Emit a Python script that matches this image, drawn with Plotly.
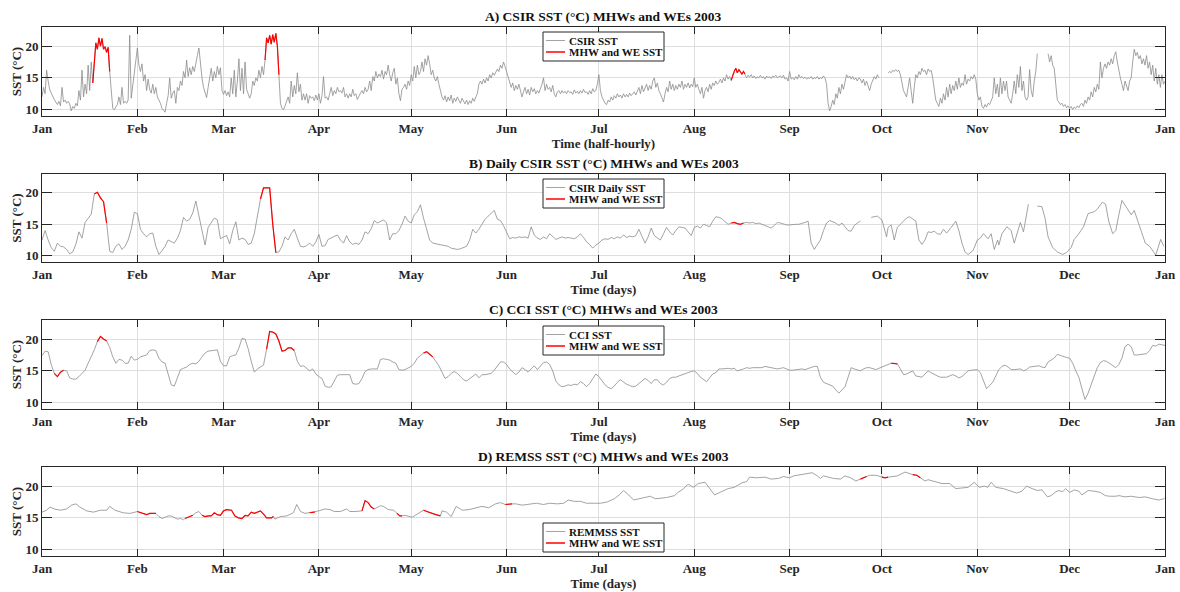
import numpy as np
import pandas as pd
import plotly.graph_objects as go

# ---------------- data ----------------
YEAR_START = "2003-01-01"
month_labels = ["Jan", "Feb", "Mar", "Apr", "May", "Jun", "Jul", "Aug", "Sep", "Oct", "Nov", "Dec", "Jan"]
ytick_vals = [10, 15, 20]

# A) CSIR half-hourly SST, sampled every half day (read from picture)
a_jan = [12.0,13.5,12.5,16.2,14.5,13.2,12.6,12.0,11.6,11.2, 10.8,11.3,10.6,13.5,11.2,11.5,11.0,11.3,10.9,9.8,
         10.5,10.2,11.0,10.6,13.0,11.5,16.2,12.0,14.0,12.5, 17.0,13.0,17.5,14.2,18.0,20.5,19.5,21.3,20.0,21.2,
         19.5,19.9,19.0,19.8,16.0,12.5,10.2,10.0,10.4,10.8, 12.0,10.8,13.5,11.0,11.3,11.0,11.5,21.7,11.8,14.0,
         16.0,17.5]
a_feb = [19.7,17.0,16.0,17.2,14.5,15.5,13.0,14.8,13.2,12.6, 14.0,12.5,13.5,12.0,11.5,11.0,10.2,9.8,9.6,11.0,
         12.2,15.0,11.8,12.6,13.0,11.0,13.5,13.0,14.5,13.8, 16.0,15.0,17.8,15.2,16.6,15.5,16.8,16.0,17.5,18.5,
         19.7,17.0,15.0,13.5,12.5,11.9,13.5,14.8,16.5,14.5, 16.0,15.0,16.8,15.5,16.6,13.0]
a_mar = [12.4,13.0,12.2,12.8,12.0,15.0,12.5,16.2,12.0,14.5, 18.0,13.0,16.5,12.5,17.5,13.2,12.5,11.8,12.5,14.5,
         13.8,15.0,14.5,16.2,15.0,16.8,15.5,17.8,21.3,20.5, 21.7,20.3,21.8,20.6,22.0,20.0,15.5,11.0,10.2,10.0,
         10.6,11.2,12.0,11.0,14.5,12.0,13.8,12.5,15.8,12.8, 14.0,11.5,12.5,11.5,12.5,11.0,12.2,11.8,12.0,11.4,
         12.3,11.5]
a_apr = [12.5,11.0,12.2,15.2,11.8,12.0,11.5,12.5,13.5,12.2, 13.0,12.5,13.5,12.8,13.0,12.6,13.5,12.0,12.5,11.8,
         12.5,12.0,13.2,12.2,12.5,11.6,12.2,12.6,13.0,12.5, 13.5,12.8,13.2,14.5,13.0,15.2,14.5,16.0,15.0,15.6,
         15.2,16.2,14.8,16.0,15.5,17.0,15.5,14.5,15.8,16.5, 14.0,15.0,12.5,11.4,13.2,13.5,14.0,13.2,14.5,13.8]
a_may = [15.5,14.5,16.8,15.0,17.0,15.5,16.0,17.5,16.0,18.0, 17.0,18.5,17.2,15.5,16.2,15.0,14.5,15.2,14.0,13.0,
         12.0,11.5,12.2,11.2,12.0,11.4,12.3,11.0,11.8,11.3, 12.0,11.5,11.0,11.8,11.2,10.9,11.5,10.8,11.4,11.0,
         11.8,11.3,12.0,12.5,14.0,14.5,14.0,14.8,14.2,15.0, 14.5,15.5,15.0,15.8,15.4,16.0,16.4,16.0,17.0,16.5,
         17.5,16.8]
a_jun = [16.0,15.5,14.5,13.5,14.2,13.0,13.8,13.2,14.0,12.8, 12.0,12.8,13.5,12.5,13.2,12.3,13.5,12.8,13.3,12.5,
         13.0,12.6,13.2,14.0,15.0,13.0,14.0,13.2,13.5,12.8, 13.8,12.5,12.0,12.8,13.0,12.5,13.0,12.6,12.9,12.5,
         13.0,12.7,12.8,12.4,13.1,12.6,12.9,12.5,13.0,12.6, 13.2,12.7,12.8,12.4,13.0,12.5,13.3,12.8,13.0,14.0]
a_jul = [15.5,13.0,12.0,11.5,11.0,10.8,11.5,11.2,12.0,11.5, 12.2,11.8,12.5,12.0,12.3,11.8,12.5,12.0,12.4,12.0,
         12.6,12.2,12.5,12.8,12.3,13.0,13.5,12.5,13.8,12.8, 13.5,14.0,13.0,13.8,13.2,14.5,15.0,13.5,14.2,13.0,
         12.5,11.8,11.2,12.5,13.5,12.8,14.5,13.2,14.0,13.0, 13.8,13.2,14.0,13.5,14.5,13.2,14.0,13.5,14.2,13.4,
         14.0,13.6]
a_aug = [15.0,13.5,14.0,13.2,12.5,13.5,11.8,13.0,13.5,12.8, 14.0,13.2,14.2,13.8,14.5,14.0,14.3,14.8,14.2,15.0,
         14.5,15.5,14.8,15.2,14.6,15.5,16.0,16.5,15.8,16.3, 15.9,15.6,16.0,15.6,15.0,15.4,15.1,15.5,15.0,15.3,
         14.9,15.2,15.0,15.4,15.0,15.2,14.8,15.3,15.0,15.2, 14.9,15.3,15.1,15.4,15.0,15.2,15.3,15.0,15.4,14.8,
         15.0,14.5]
a_sep = [16.0,14.8,15.0,14.7,15.2,14.8,15.5,15.0,15.2,14.9, 15.1,14.8,15.0,14.9,15.2,14.8,15.0,14.9,15.2,14.8,
         15.0,14.9,15.3,15.0,14.0,11.0,9.8,10.5,11.5,10.8, 12.5,11.8,13.5,12.5,14.0,13.2,14.5,15.5,15.0,15.3,
         14.8,15.2,14.7,15.0,14.5,15.0,14.8,14.2,14.8,13.8, 14.5,13.5,13.0,14.0,14.5,15.2,14.8,15.5,15.0,None]
a_oct = [None,None,None,None,15.8,16.0,15.8,16.2,16.0,16.3, 16.0,16.2,15.5,14.0,13.0,12.5,12.0,13.5,15.0,13.0,
         11.0,13.5,15.5,15.0,16.0,15.5,16.5,16.0,16.2,15.5, 16.4,16.0,16.2,15.0,13.0,11.5,11.0,10.5,11.8,11.0,
         12.5,11.5,13.5,12.0,14.0,12.5,13.8,13.0,14.5,13.2, 15.0,13.5,14.2,13.8,15.5,14.0,14.8,14.5,15.2,14.8,
         15.5,14.8]
a_nov = [12.5,11.5,12.0,10.5,10.2,10.8,10.4,11.0,10.8,11.5, 12.0,15.0,12.5,14.0,12.0,15.0,12.5,14.5,13.0,14.5,
         12.0,11.5,11.0,12.5,14.5,12.5,15.5,13.5,16.8,13.0, 14.5,12.0,11.5,12.0,16.3,13.0,12.0,14.5,16.0,18.8,
         None,None,None,None,None,None,18.8,17.5,18.5,17.0, 16.5,14.0,11.5,11.2,10.8,11.0,10.5,10.8,10.3,10.6]
a_dec = [10.2,10.5,10.0,10.4,10.2,10.6,10.3,10.8,11.0,10.5, 11.5,11.0,12.0,11.5,12.8,12.0,13.5,12.8,14.0,13.2,
         17.5,15.0,16.5,17.2,16.5,17.5,17.0,18.0,17.2,18.5, 19.1,17.5,16.0,15.0,14.0,13.0,14.5,13.5,13.0,14.5,
         15.0,17.5,19.5,18.5,19.0,18.0,18.5,17.2,18.0,17.0, 18.5,16.5,17.5,15.5,17.0,14.5,16.5,14.0,15.5,13.5,
         15.5,14.0]
a_end = [14.5]
a_events = [(16.5, 22.0), (72.5, 77.0), (224.0, 228.5)]

# B) CSIR daily SST
b_sst_daily = [12.5,14.0,12.5,11.3,10.7,12.0,11.5,11.4,11.0,10.3, 10.6,11.8,13.8,12.8,15.3,15.9,16.6,19.8,20.1,19.2,
    18.6,15.2,10.7,10.5,11.5,11.9,11.0,11.5,12.5,14.2, 16.9,16.7,14.2,13.5,13.0,13.5,13.6,11.5,10.2,10.8,
    11.5,12.5,12.3,12.0,12.8,14.0,16.1,15.5,15.8,16.8, 18.7,16.5,14.0,11.7,14.5,15.3,16.0,15.7,12.7,13.0,
    13.2,11.9,14.0,15.4,12.5,12.8,12.6,11.8,12.0,13.5, 16.0,19.0,20.8,20.8,20.8,15.0,10.5,10.6,11.5,13.0,
    12.5,13.5,14.2,12.8,11.5,11.4,11.6,12.0,11.5,12.2, 13.4,11.5,11.6,12.6,12.8,13.0,13.3,12.5,12.0,13.2,
    12.2,11.8,12.0,11.8,12.5,13.8,13.5,14.3,15.6,15.2, 15.4,15.7,15.2,12.5,13.5,13.5,14.0,15.0,16.3,15.5,
    15.2,16.5,17.0,18.1,16.0,14.0,12.5,12.0,11.9,11.8, 11.8,11.7,11.5,11.2,11.1,11.0,11.1,11.3,11.5,12.5,
    14.2,13.6,14.2,15.0,15.8,16.3,16.8,17.2,15.8,15.6, 14.8,13.8,12.7,12.9,12.8,13.0,12.9,13.0,12.8,14.6,
    13.3,12.8,12.6,13.0,12.7,13.5,13.0,12.6,12.8,13.0, 12.8,12.9,12.8,12.7,13.0,13.5,12.9,12.2,11.8,11.2,
    11.7,12.0,12.5,12.7,12.6,12.9,12.7,13.0,12.8,13.3, 12.9,13.1,13.0,13.2,14.2,13.0,12.0,13.0,14.4,13.2,
    12.8,12.5,13.5,14.5,13.8,13.3,14.0,14.6,14.5,14.4, 13.8,13.2,14.5,14.7,14.4,15.0,14.8,14.6,15.5,16.2,
    16.1,15.9,15.4,15.0,15.2,15.3,15.1,15.0,15.2,15.3, 15.2,15.3,15.1,15.2,15.0,14.8,14.6,14.4,14.8,15.3,
    15.2,15.0,14.9,14.9,15.0,15.0,15.0,15.1,15.3,15.5, 12.0,11.0,11.8,12.5,14.0,15.2,15.6,15.4,15.2,14.8,
    15.2,14.6,14.0,13.9,14.8,15.2,15.5]
b_day_tail = [268, 269.5, 270.5, 271.5, 273, 274.5, 275, 276, 277, 278, 279, 280, 281, 282, 283, 284, 285, 286,
    287, 288, 289, 290, 291, 292, 293, 294, 295.5, 297, 298, 299, 300, 301, 302.6, 304, 305, 306, 307.5, 308.5,
    309.5, 310.6, 311, 312, 313.6, 315, 316, 318, 319, 320.6, 322, 323.5, 325, 326, 327, 328.5, 330, 331.7,
    333, 334.5, 335.5, 337, 338.5, 340, 342, 343, 344.6, 345.7, 346.7, 348, 349, 350, 351, 352.6, 354, 355,
    357, 358.6, 360, 362, 363.6, 364.6]
b_sst_tail = [None, 16.1, 16.2, 16.3, 15.7, 13.0, 14.5, 14.9, 12.5, 14.5, 15.0, 15.5, 16.0, 16.2, 15.8, 15.5, 12.5, 11.8,
    12.5, 13.8, 13.7, 13.9, 13.5, 13.4, 14.2, 13.6, 14.5, 15.5, 14.0, 12.0, 10.6, 10.2, 10.8, 12.5, 12.8, 13.5, 12.7, 13.5,
    11.0, 12.5, 11.7, 13.5, 14.6, 14.0, 12.0, 15.3, 13.8, 18.2, None, 17.9, 17.8, 16.0, 13.0, 11.3, 10.6, 10.2,
    10.5, 11.3, 12.6, 13.5, 14.6, 16.7, 17.0, 17.4, 18.5, 18.2, 15.5, 13.5, 14.0, 16.5, 18.8, 17.6, 16.5, 17.2,
    14.3, 12.0, 11.5, 10.1, 12.6, 11.5]
b_events = [(17, 21), (71, 76), (224, 228)]

# C) CCI daily SST
c_sst = [17.4,18.1,18.0,16.0,14.6,14.1,14.8,15.1,15.0,13.9, 13.7,13.7,14.1,14.6,15.1,16.2,17.2,18.3,19.6,20.4,
    20.0,19.7,18.7,17.2,16.2,16.8,16.7,16.2,16.2,17.3, 16.7,16.8,17.2,17.4,17.5,18.2,18.3,18.2,17.0,16.4,
    16.2,14.5,12.8,12.6,13.8,15.2,15.4,15.6,16.0,16.2, 16.1,16.5,17.2,17.8,18.1,18.2,18.2,18.3,16.5,15.8,
    15.8,17.2,17.4,17.5,18.6,20.1,20.0,18.5,16.5,14.8, 15.3,15.6,15.9,18.4,21.2,21.1,20.8,19.7,18.1,18.2,
    18.6,18.6,18.2,16.5,15.7,15.8,15.4,15.0,15.3,14.5, 14.1,13.8,12.6,12.4,12.5,13.5,14.3,14.4,14.4,14.4,
    14.4,13.0,12.9,13.0,13.8,14.9,15.2,15.3,15.3,15.3, 16.8,16.9,16.8,16.7,16.4,16.2,15.2,15.1,15.2,15.4,
    15.7,16.2,17.0,17.4,17.8,18.0,17.6,17.2,16.5,15.8, 14.8,13.8,14.1,14.6,14.9,14.6,14.1,13.6,13.4,13.8,
    14.2,14.5,13.9,14.4,14.4,14.5,14.6,15.1,15.8,16.4, 16.4,16.0,15.3,14.8,14.4,14.8,15.5,15.2,14.8,15.3,
    15.8,15.2,15.8,16.3,16.4,16.0,15.0,13.4,12.8,12.5, 12.6,12.8,12.7,12.9,12.8,13.3,13.0,12.5,13.0,13.8,
    14.5,14.1,13.5,12.8,12.4,12.2,12.6,13.2,13.6,13.2, 12.9,12.7,12.5,12.6,13.0,13.5,13.8,13.5,13.0,13.6,
    13.6,13.0,12.8,13.2,13.8,14.0,14.0,14.2,14.4,14.6, 14.7,14.9,15.0,14.6,14.0,13.6,13.3,13.9,14.5,14.7,
    15.3,15.3,15.4,15.4,15.3,15.4,15.0,15.1,15.3,15.5, 15.4,15.5,15.5,15.4,15.5,15.7,15.6,15.5,15.4,15.3,
    15.4,15.5,15.3,15.1,15.1,15.2,15.3,15.3,15.2,15.4, 15.6,15.7,15.7,14.0,13.2,13.0,12.8,12.6,12.0,11.5,
    12.0,12.5,14.0,15.5,15.3,15.1,15.0,15.3,15.5,15.5, 15.4,15.2,15.4,15.6,15.8,16.0,16.2,16.2,16.1,15.3,
    14.4,14.5,14.7,15.0,14.2,14.1,14.0,14.5,15.0,14.7, 14.4,14.2,14.0,14.0,14.0,14.2,14.4,14.2,13.9,14.1,
    14.5,15.0,15.1,15.2,15.2,14.7,13.5,12.2,12.7,13.2, 14.2,15.2,15.7,15.9,15.6,15.2,15.2,15.3,15.3,15.0,
    15.2,15.6,15.7,15.8,15.8,15.6,15.5,16.4,16.7,17.0, 17.6,17.4,17.2,17.1,17.0,16.2,15.0,14.0,12.2,10.5,
    11.5,12.8,14.0,15.5,16.3,16.6,16.5,16.2,15.8,15.5, 16.0,17.0,18.8,19.2,18.8,17.5,17.5,17.6,17.6,17.7,
    18.2,19.0,18.9,19.2,19.1,19.0]
c_events = [(4, 7), (18, 21), (73, 82), (124, 127), (276, 278)]

# D) REMSS daily SST (read at irregular days)
d_day = [0, 1.5, 2.6, 4, 6, 8, 9.6, 11, 12.3, 14.5, 16.7, 19, 21, 22, 23.7, 26.4, 28.6, 31, 32, 33, 34, 35, 36, 37,
    38, 39, 40, 41, 42, 43, 44, 45, 46, 46.5, 47.5, 49, 50, 51, 52, 53, 54, 55, 56, 57, 58, 59, 60, 61.6, 62.7,
    63.8, 65, 66, 67, 68, 69, 71, 72, 73, 74.6, 75.2, 75.7, 77.4, 79.5, 81.7, 82.8, 84, 85.5, 87, 88.7, 90, 92,
    93.6, 95, 97, 99, 100, 102, 104, 105, 106, 107, 108, 110, 111, 112.5, 114.3, 115.4, 116.3, 117, 118, 120.3,
    122, 124, 125, 126, 127, 128, 129.5, 130, 131.5, 133, 134.6, 136.6, 138.8, 141, 143, 145.2, 147.4, 149,
    150.6, 152.8, 154, 156, 158, 160.7, 163, 165, 167.5, 169.6, 171, 173, 175, 177, 179.5, 181.6, 183.7, 186,
    187.6, 189, 190.7, 192.3, 194, 195.6, 197.7, 199.4, 201, 203, 205.6, 206.7, 208.3, 210, 211.7, 213.3,
    215.5, 217, 218.6, 220.3, 223, 225, 227.5, 229, 230, 232.3, 235, 237, 239.4, 241, 243, 244.3, 246.5,
    248.6, 250.3, 252, 253, 254, 255.7, 257.3, 259.5, 261, 262.8, 264.5, 266, 268, 269, 271, 273, 274, 275,
    276, 278, 280.5, 282, 283, 284.3, 285.5, 287, 288, 290.5, 292.5, 295, 297, 299, 301, 303, 304.6, 306.3,
    307.4, 308.5, 310, 312.5, 314.6, 316.8, 318.5, 320, 321.8, 323.5, 325, 326.8, 328, 329.5, 330.5, 331.7,
    332.7, 334, 335.5, 337, 338, 340, 342, 344, 345.6, 347, 349, 350, 352, 354, 356.6, 358.6, 361, 363,
    364.6, 365]
d_sst = [15.9, 16.2, 16.7, 16.4, 16.2, 16.4, 17.0, 17.2, 16.7, 16.1, 15.9, 16.2, 16.2, 16.8, 16.2, 15.8, 15.7, 16.0,
    15.8, 15.6, 15.5, 15.7, 15.7, 15.7, 15.2, 14.9, 15.1, 15.3, 15.3, 15.0, 14.8, 14.9, 14.7, 14.9, 15.1, 15.4,
    15.8, 16.0, 15.4, 15.2, 15.3, 15.3, 15.8, 15.5, 15.4, 16.1, 16.3, 16.2, 15.3, 15.0, 14.9, 15.4, 15.3, 15.9,
    15.7, 16.1, 15.6, 15.0, 15.0, 15.2, 14.8, 15.2, 15.3, 15.8, 17.1, 16.0, 15.7, 15.8, 15.9, 16.1, 16.4, 16.3,
    16.0, 16.0, 16.4, 16.0, 16.0, 16.1, 17.7, 17.4, 16.7, 16.4, 16.9, 16.8, 16.3, 16.2, 15.7, 15.3, 15.3, 15.4,
    15.1, 15.6, 16.2, 16.0, 15.8, 15.6, 15.5, 15.3, 16.1, 15.9, 15.2, 16.8, 16.2, 16.3, 16.5, 16.8, 16.6, 17.2,
    17.4, 17.1, 17.2, 17.2, 17.0, 17.1, 17.3, 17.1, 17.3, 17.2, 17.3, 17.8, 17.6, 17.6, 17.3, 17.3, 17.3, 17.5,
    18.0, 18.6, 19.3, 18.6, 17.8, 18.0, 18.2, 18.4, 18.0, 18.1, 18.2, 18.5, 19.0, 19.5, 20.3, 19.8, 20.4, 20.6,
    19.6, 18.6, 19.0, 19.6, 19.8, 20.5, 20.7, 21.4, 21.3, 21.4, 21.1, 21.2, 21.5, 21.3, 21.6, 21.8, 21.9, 22.1,
    21.6, 21.2, 21.6, 21.4, 21.2, 21.1, 21.6, 21.3, 20.8, 21.1, 21.5, 21.7, 21.7, 21.4, 21.3, 21.4, 21.5, 21.6,
    22.2, 21.9, 21.8, 21.7, 21.3, 20.8, 21.0, 20.7, 20.4, 20.4, 19.6, 19.7, 19.8, 20.6, 19.8, 20.0, 19.8, 20.6,
    19.8, 19.6, 19.3, 18.9, 19.2, 20.0, 19.6, 19.3, 19.4, 18.3, 18.5, 19.1, 19.3, 19.1, 19.6, 19.0, 19.4, 19.2,
    18.6, 19.3, 19.2, 19.0, 18.5, 18.4, 18.4, 18.5, 18.3, 18.4, 18.2, 18.3, 18.0, 17.8, 18.0, 18.2]
d_events = [(31, 37), (46.5, 49), (52, 75.2), (87, 88.7), (104, 108), (115.4, 117), (124, 129.5),
            (150.6, 152.8), (266, 268), (273, 275), (283, 285.5)]

panel_titles = ["A) CSIR SST (°C) MHWs and WEs 2003", "B) Daily CSIR SST (°C) MHWs and WEs 2003",
                "C) CCI SST (°C) MHWs and WEs 2003", "D) REMSS SST (°C) MHWs and WEs 2003"]
series_names = ["CSIR SST", "CSIR Daily SST", "CCI SST", "REMMSS SST"]
event_name = "MHW and WE SST"
x_titles = ["Time (half-hourly)", "Time (days)", "Time (days)", "Time (days)"]

# ---------------- build ----------------
a_sst = a_jan + a_feb + a_mar + a_apr + a_may + a_jun + a_jul + a_aug + a_sep + a_oct + a_nov + a_dec + a_end
a_day = list(np.arange(len(a_sst)) * 0.5)
b_day = list(range(len(b_sst_daily))) + b_day_tail
b_sst = b_sst_daily + b_sst_tail
c_day = list(range(len(c_sst)))

start = pd.Timestamp(YEAR_START)
def to_dates(days):
    return [start + pd.Timedelta(days=float(d)) for d in days]

def red_part(days, vals, events):
    return [v if (v is not None and any(s <= d <= e for s, e in events)) else None for d, v in zip(days, vals)]

panels = [(a_day, a_sst, a_events), (b_day, b_sst, b_events), (c_day, c_sst, c_events), (d_day, d_sst, d_events)]

W, H = 1180, 592
PX_L, PX_R = 42, 1165
tops = [27, 174, 320, 467]
bottoms = [116, 262, 409, 556]
legend_tops = [32, 179, 326, 523]
LEG_L, LEG_R, LEG_H = 543, 664, 29
xdom = [PX_L / W, PX_R / W]
xc = (xdom[0] + xdom[1]) / 2

FONT = "Liberation Serif, Times New Roman, serif"
DARK = "#262626"
GRAY = "#8c8c8c"
RED = "#ff0000"
GRID = "#dedede"

tick_dates = pd.date_range(YEAR_START, periods=13, freq="MS")

fig = go.Figure()
annotations, shapes = [], []
layout = dict(
    width=W, height=H, margin=dict(l=0, r=0, t=0, b=0),
    paper_bgcolor="white", plot_bgcolor="white", showlegend=False,
    font=dict(family=FONT, size=13, color=DARK, weight="bold"),
)

def px_x(p):
    return p / W

def px_y(p):
    return 1 - p / H

for i, (days, vals, events) in enumerate(panels):
    sfx = "" if i == 0 else str(i + 1)
    dates = to_dates(days)
    fig.add_trace(go.Scatter(x=dates, y=vals, mode="lines", name=series_names[i],
                             line=dict(color=GRAY, width=0.8), xaxis="x" + sfx, yaxis="y" + sfx,
                             hoverinfo="skip"))
    fig.add_trace(go.Scatter(x=dates, y=red_part(days, vals, events), mode="lines", name=event_name,
                             line=dict(color=RED, width=1.2), xaxis="x" + sfx, yaxis="y" + sfx,
                             hoverinfo="skip"))
    ydom = [px_y(bottoms[i]), px_y(tops[i])]
    layout["xaxis" + sfx] = dict(
        domain=xdom, anchor="y" + sfx, type="date", automargin=False,
        range=[tick_dates[0], tick_dates[-1]],
        tickvals=list(tick_dates), ticktext=month_labels,
        ticks="inside", ticklen=7, tickwidth=1, tickcolor=DARK,
        showline=True, linecolor=DARK, linewidth=1, mirror="ticks",
        showgrid=True, gridcolor=GRID, gridwidth=1, zeroline=False,
        tickfont=dict(size=13, family=FONT, color=DARK, weight="bold"),
        title=dict(text=x_titles[i], font=dict(size=13, family=FONT, color=DARK, weight="bold"), standoff=2),
    )
    layout["yaxis" + sfx] = dict(
        domain=ydom, anchor="x" + sfx, range=[9, 23], automargin=False,
        tickvals=ytick_vals, ticks="inside", ticklen=10, tickwidth=1, tickcolor=DARK,
        showline=True, linecolor=DARK, linewidth=1, mirror="ticks",
        showgrid=True, gridcolor=GRID, gridwidth=1, zeroline=False,
        tickfont=dict(size=13, family=FONT, color=DARK, weight="bold"),
        title=dict(text="SST (°C)", font=dict(size=13, family=FONT, color=DARK, weight="bold"), standoff=0),
    )
    # panel title
    annotations.append(dict(
        text=panel_titles[i], x=xc, y=ydom[1], xref="paper", yref="paper",
        xanchor="center", yanchor="bottom", yshift=1, showarrow=False,
        font=dict(size=13.5, family=FONT, color="#111111", weight="bold"),
    ))
    # legend box (MATLAB style)
    lt = legend_tops[i]
    shapes.append(dict(type="rect", xref="paper", yref="paper",
                       x0=px_x(LEG_L), x1=px_x(LEG_R), y0=px_y(lt + LEG_H), y1=px_y(lt),
                       line=dict(color=DARK, width=1), fillcolor="white", layer="above"))
    for row, (label, col, lw) in enumerate([(series_names[i], GRAY, 0.8), (event_name, RED, 1.5)]):
        yy = lt + 8.5 + row * 11.5
        shapes.append(dict(type="line", xref="paper", yref="paper",
                           x0=px_x(LEG_L + 3), x1=px_x(LEG_L + 22), y0=px_y(yy), y1=px_y(yy),
                           line=dict(color=col, width=lw), layer="above"))
        annotations.append(dict(
            text=label, x=px_x(LEG_L + 24), y=px_y(yy), xref="paper", yref="paper",
            xanchor="left", yanchor="middle", showarrow=False,
            font=dict(size=11, family=FONT, color="#111111", weight="bold"),
        ))

layout["annotations"] = annotations
layout["shapes"] = shapes
fig.update_layout(**layout)
fig.write_html("out.html")
